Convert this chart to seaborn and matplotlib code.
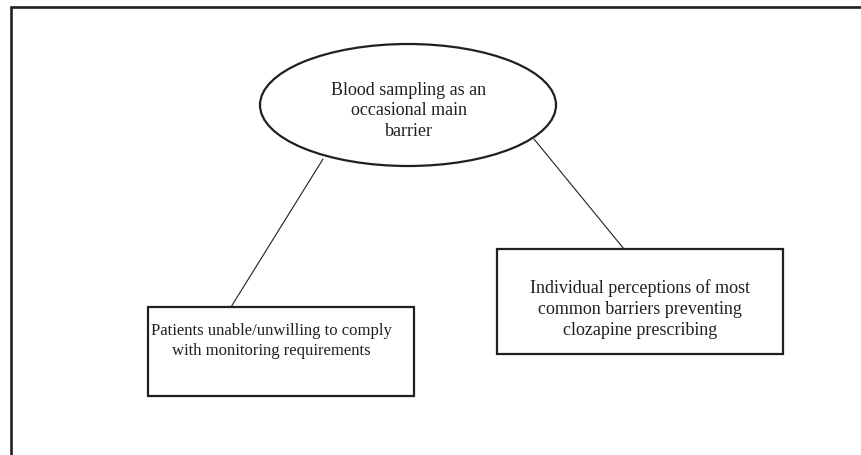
import matplotlib
matplotlib.use("Agg")
import matplotlib.pyplot as plt
from matplotlib.patches import Ellipse, Rectangle
import seaborn as sns
import pandas as pd

# Diagram content
node_labels = [
    "Blood sampling as an\noccasional main\nbarrier",
    "Patients unable/unwilling to comply\nwith monitoring requirements",
    "Individual perceptions of most\ncommon barriers preventing\nclozapine prescribing",
]
edge_names = ["left", "left", "right", "right"]
edge_x = [323, 231, 534, 624]
edge_y = [160, 308, 140, 250]

sns.set_theme(style="white")
plt.rcParams['font.family'] = ['Liberation Serif', 'DejaVu Serif']

fig = plt.figure(figsize=(8.61, 4.56), dpi=100)
ax = fig.add_axes([0, 0, 1, 1])

# connectors
df = pd.DataFrame({"x": edge_x, "y": edge_y, "edge": edge_names})
sns.lineplot(data=df, x="x", y="y", units="edge", estimator=None, sort=False,
             color="#231f20", lw=0.8, ax=ax, legend=False)
ax.set_xlim(0, 861)
ax.set_ylim(456, 0)
ax.axis("off")

# outer frame (top and left)
ax.plot([11, 11, 861], [456, 7.5, 7.5], color="#231f20", lw=1.9, solid_joinstyle="miter")

# ellipse
ax.add_patch(Ellipse((408, 106), 296, 122, fill=False, ec="#231f20", lw=1.6))
ax.text(409, 111, node_labels[0], ha="center", va="center", fontsize=13,
        color="#231f20", linespacing=1.3)

# left box
ax.add_patch(Rectangle((148, 308), 266, 89, fill=False, ec="#231f20", lw=1.6))
ax.text(271, 341, node_labels[1], ha="center", va="center", fontsize=12,
        color="#231f20", linespacing=1.4)

# right box
ax.add_patch(Rectangle((497, 250), 286, 105, fill=False, ec="#231f20", lw=1.6))
ax.text(640, 309, node_labels[2], ha="center", va="center", fontsize=13,
        color="#231f20", linespacing=1.3)

fig.savefig("out.png", dpi=100, facecolor="white")
